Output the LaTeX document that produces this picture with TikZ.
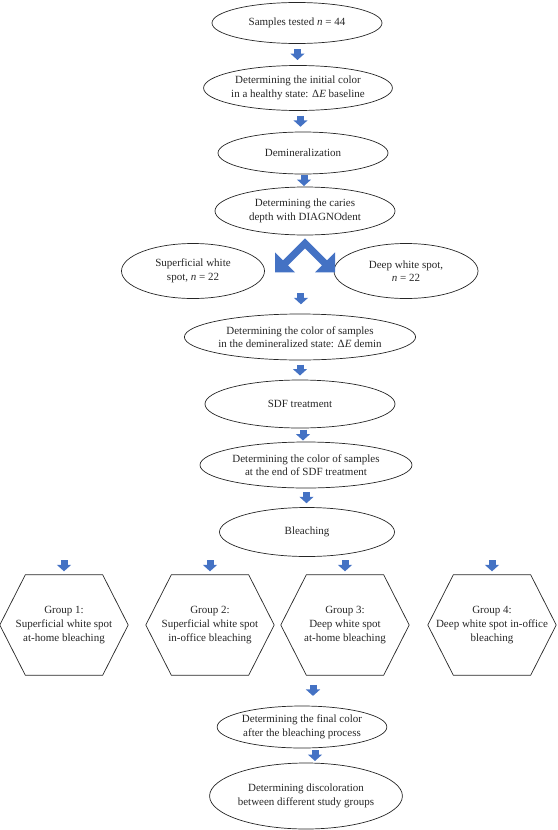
\documentclass[tikz,border=0pt]{standalone}
\usepackage{fontspec}
\setmainfont{Liberation Serif}
\usepackage{tikz}
\usetikzlibrary{shapes.geometric,arrows.meta,calc}
\definecolor{BleachBlue}{HTML}{4472C4}
\definecolor{BleachInk}{HTML}{262626}
\tikzset{
  blstage/.style={
    ellipse,
    draw=BleachInk,
    line width=0.7pt,
    align=center,
    inner sep=0pt,
    text=BleachInk,
    font=\fontsize{11}{13.6}\selectfont
  },
  blgroup/.style={
    rectangle,
    minimum width=128pt,
    minimum height=100pt,
    align=center,
    inner sep=0pt,
    text=BleachInk,
    font=\fontsize{11}{13.6}\selectfont
  },
  blhex/.style={draw=BleachInk, line width=0.7pt, line join=miter},
  blflow/.style={draw=BleachBlue, line width=7pt, -{Triangle[length=6.5pt,width=14pt]}}
}

\begin{document}
\begin{tikzpicture}[x=1pt, y=-1pt]
  \useasboundingbox (0,0) rectangle (557,830);
  % stages
  \node[blstage, minimum width=170pt, minimum height=41pt] (tested) at (297,23) {Samples tested \textit{n} = 44};
  \node[blstage, minimum width=180pt, minimum height=45pt] (baseline) at (298,88) {Determining the initial color\\in a healthy state: Δ\textit{E} baseline};
  \node[blstage, minimum width=170pt, minimum height=42pt] (demin) at (303,153) {Demineralization};
  \node[blstage, minimum width=180pt, minimum height=48pt] (depth) at (305,211) {Determining the caries\\depth with DIAGNOdent};
  \node[blstage, minimum width=143pt, minimum height=55pt] (superficial) at (193,271) {Superficial white\\spot, \textit{n} = 22};
  \node[blstage, minimum width=144pt, minimum height=55pt] (deep) at (406,271) {Deep white spot,\\\textit{n} = 22};
  \node[blstage, minimum width=226pt, minimum height=46pt] (demincolor) at (300,337) {Determining the color of samples\\in the demineralized state: Δ\textit{E} demin};
  \node[blstage, minimum width=190pt, minimum height=48pt] (sdf) at (300,404) {SDF treatment};
  \node[blstage, minimum width=212pt, minimum height=46pt] (sdfcolor) at (306,465) {Determining the color of samples\\at the end of SDF treatment};
  \node[blstage, minimum width=175pt, minimum height=49pt] (bleach) at (307,532) {Bleaching};
  % groups
  \node[blgroup] (g1) at (64,625) {Group 1:\\Superficial white spot\\at-home bleaching};
  \node[blgroup] (g2) at (210,625) {Group 2:\\Superficial white spot\\in-office bleaching};
  \node[blgroup] (g3) at (345,625) {Group 3:\\Deep white spot\\at-home bleaching};
  \node[blgroup] (g4) at (492,625) {Group 4:\\Deep white spot in-office\\bleaching};
  \foreach \g in {g1,g2,g3,g4}
    \draw[blhex] (\g.west) -- ([xshift=25.5pt]\g.north west) -- ([xshift=-25.5pt]\g.north east)
      -- (\g.east) -- ([xshift=-25.5pt]\g.south east) -- ([xshift=25.5pt]\g.south west) -- cycle;
  \node[blstage, minimum width=152pt, minimum height=42pt] (final) at (302,727) {Determining the final color\\after the bleaching process};
  \node[blstage, minimum width=162pt, minimum height=66pt] (discolor) at (306,796) {Determining discoloration\\between different study groups};
  % arrow positions
  \path (tested.south) -- coordinate (m1) (baseline.north);
  \path (baseline.south) -- coordinate (m2) (demin.north);
  \path (demin.south) -- coordinate (m3) (depth.north);
  \path (depth.south) -- coordinate[pos=0.81] (m4) (demincolor.north);
  \path (demincolor.south) -- coordinate (m5) (sdf.north);
  \path (sdf.south) -- coordinate (m6) (sdfcolor.north);
  \path (sdfcolor.south) -- coordinate (m7) (bleach.north);
  \path ([xshift=11pt]final.north |- g3.south) -- coordinate (m8) ([xshift=11pt]final.north);
  \path ([xshift=13pt]final.south) -- coordinate (m9) ([xshift=13pt]final.south |- discolor.north);
  \foreach \m in {m1,m2,m3,m4,m5,m6,m7,m8,m9}
    \draw[blflow] ([yshift=5.5pt]\m) -- ([yshift=-5.5pt]\m);
  \foreach \g in {g1,g2,g3,g4} {
    \path (bleach.south -| \g.north) -- coordinate (m\g) (\g.north);
    \draw[blflow] ([yshift=5.5pt]m\g) -- ([yshift=-5.5pt]m\g);
  }
  % split into two depths
  \coordinate (split) at ([yshift=-3pt]depth.south);
  \fill[BleachBlue] (split) -- ++(-22,22) -- ++(-8,-8) -- ++(0,20) -- ++(20,0) -- ++(-7,-7)
    -- ++(17,-17) -- ++(17,17) -- ++(-7,7) -- ++(20,0) -- ++(0,-20) -- ++(-8,8) -- cycle;
\end{tikzpicture}
\end{document}
